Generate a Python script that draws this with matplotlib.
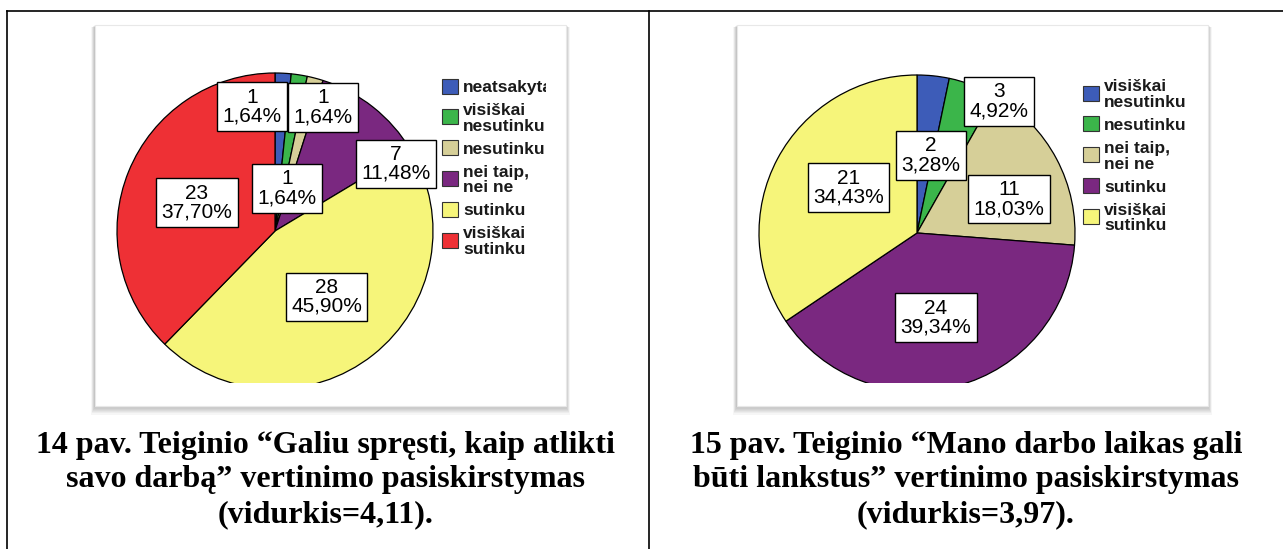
import math
import matplotlib
matplotlib.use("Agg")
import matplotlib.pyplot as plt
from matplotlib.patches import Rectangle

# ---------------- data ----------------
left_categories = ["neatsakyta", "visiškai\nnesutinku", "nesutinku", "nei taip,\nnei ne", "sutinku", "visiškai\nsutinku"]
left_counts = [1, 1, 1, 7, 28, 23]
left_colors = ["#3d5cb8", "#3bb54a", "#d6cf98", "#7a2880", "#f6f57a", "#ee3035"]

right_categories = ["visiškai\nnesutinku", "nesutinku", "nei taip,\nnei ne", "sutinku", "visiškai\nsutinku"]
right_counts = [2, 3, 11, 24, 21]
right_colors = ["#3d5cb8", "#3bb54a", "#d6cf98", "#7a2880", "#f6f57a"]

left_caption = ["14 pav. Teiginio \u201cGaliu spręsti, kaip atlikti",
                "savo darbą\u201d vertinimo pasiskirstymas",
                "(vidurkis=4,11)."]
right_caption = ["15 pav. Teiginio \u201cMano darbo laikas gali",
                 "būti lankstus\u201d vertinimo pasiskirstymas",
                 "(vidurkis=3,97)."]

# label placement (angle clockwise from 12 o'clock in degrees, radius fraction)
left_label_pos = [(-10.4, 0.80), (21.2, 0.84), (15.6, 0.28), (61.0, 0.875), (142.0, 0.53), (290.0, 0.525)]
right_label_pos = [(10.3, 0.50), (31.8, 0.98), (69.7, 0.62), (167.4, 0.55), (303.5, 0.52)]

W, H = 1283, 549
fig = plt.figure(figsize=(W / 100, H / 100), dpi=100)
fig.patch.set_facecolor("white")

def Y(py):
    return H - py

# ---------------- background (table, frames, captions) ----------------
bg = fig.add_axes([0, 0, 1, 1])
bg.set_xlim(0, W)
bg.set_ylim(H, 0)
bg.axis("off")

lw_tab = 1.2
bg.plot([7, W], [11, 11], color="black", lw=lw_tab)
bg.plot([7, 7], [11, H], color="black", lw=lw_tab)
bg.plot([649, 649], [11, H], color="black", lw=lw_tab)

def frame(x0, y0, x1, y1):
    # soft shadow
    for k in range(1, 8):
        bg.add_patch(Rectangle((x0 - k * 0.55, y0 + k * 0.3), (x1 - x0) + k * 1.1, (y1 - y0) + k * 0.95,
                               facecolor="black", edgecolor="none", alpha=0.035, zorder=1))
    bg.add_patch(Rectangle((x0, y0), x1 - x0, y1 - y0, facecolor="white", edgecolor="#e8e8e8",
                           lw=0.8, zorder=2))

frame(95, 25, 566, 406)
frame(737, 25, 1208, 406)

cap_kw = dict(ha="center", va="center", fontsize=23, fontweight="bold", family="Liberation Serif",
              color="black", zorder=3)
for i, line in enumerate(left_caption):
    bg.text(326, 445 + i * 35, line, **cap_kw)
for i, line in enumerate(right_caption):
    bg.text(966, 445 + i * 35, line, **cap_kw)

# ---------------- pies ----------------
def pct(v, total):
    return f"{v / total * 100:.2f}".replace(".", ",") + "%"

def draw_pie(xr, yr, center, radius, counts, colors, categories, label_pos, leg_box_x, leg_y0, leg_step):
    x0, x1 = xr
    y0, y1 = yr
    ax = fig.add_axes([x0 / W, (H - y1) / H, (x1 - x0) / W, (y1 - y0) / H])
    cx, cy = center[0], Y(center[1])
    wedges, _ = ax.pie(counts, colors=colors, startangle=90, counterclock=False,
                       center=(cx, cy), radius=radius, frame=True,
                       wedgeprops=dict(edgecolor="black", linewidth=0.9))
    ax.set_aspect("auto")
    ax.set_xlim(x0, x1)
    ax.set_ylim(Y(y1), Y(y0))
    ax.axis("off")
    clip = Rectangle((x0, Y(y1)), x1 - x0, y1 - y0, transform=ax.transData, facecolor="none",
                     edgecolor="none")
    for w in wedges:
        w.set_clip_on(True)
        w.set_clip_path(clip)
    total = sum(counts)
    for c, (ang, rf) in zip(counts, label_pos):
        a = math.radians(ang)
        lx = cx + rf * radius * math.sin(a)
        ly = cy + rf * radius * math.cos(a)
        ax.text(lx, ly, f"{c}\n{pct(c, total)}", ha="center", va="center", fontsize=15,
                family="Liberation Sans", linespacing=1.0, zorder=5,
                bbox=dict(boxstyle="square,pad=0.26", facecolor="white", edgecolor="black", linewidth=1.0))
    # legend
    for i, (name, col) in enumerate(zip(categories, colors)):
        yc = leg_y0 + i * leg_step
        ax.add_patch(Rectangle((leg_box_x, Y(yc + 7.5)), 16, 15, facecolor=col, edgecolor="#333333",
                               lw=0.8, zorder=5))
        ax.text(leg_box_x + 21, Y(yc + 1.5), name, ha="left", va="center", fontsize=12.5,
                fontweight="bold", family="Liberation Sans", color="#1a1a1a", linespacing=1.05,
                clip_on=True, zorder=5)
    return ax

draw_pie((95, 546), (25, 383), (275, 231), 158, left_counts, left_colors, left_categories,
         left_label_pos, 442, 86, 30.8)
draw_pie((737, 1205), (25, 383), (917, 233), 158, right_counts, right_colors, right_categories,
         right_label_pos, 1083, 93, 30.9)

fig.savefig("out.png", dpi=100, facecolor="white")
